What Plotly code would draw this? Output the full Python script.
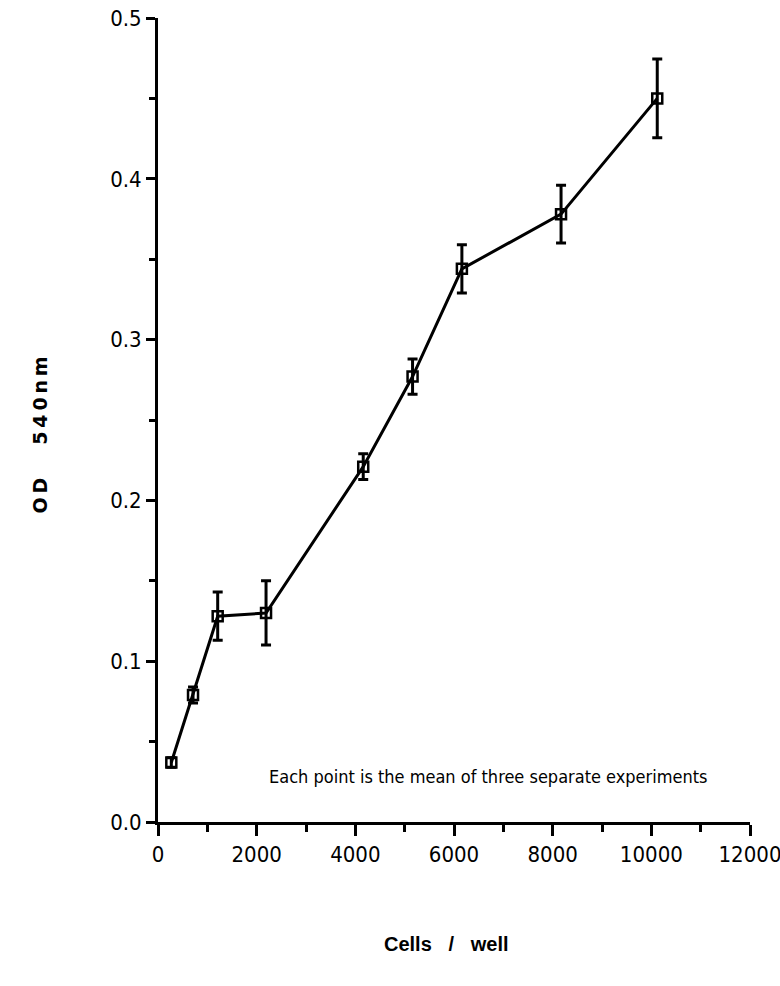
import plotly.graph_objects as go

# Cell-density calibration: mean OD at 540 nm per well
cells_per_well = [270, 710, 1210, 2190, 4160, 5160, 6160, 8170, 10120]
od_540 = [0.037, 0.079, 0.128, 0.130, 0.221, 0.277, 0.344, 0.378, 0.450]
od_err = [0.003, 0.005, 0.015, 0.020, 0.008, 0.011, 0.015, 0.018, 0.0245]

x_ticks = [0, 2000, 4000, 6000, 8000, 10000, 12000]
y_ticks = [0.0, 0.1, 0.2, 0.3, 0.4, 0.5]

narrow = "Liberation Sans Narrow, DejaVu Sans Condensed, Arial Narrow, sans-serif"
tick_font = dict(family=narrow, size=22, color="black")
ts = "\u2009"  # thin space for letter-spaced title

fig = go.Figure()
fig.add_trace(go.Scatter(
    x=cells_per_well,
    y=od_540,
    mode="lines+markers",
    line=dict(color="black", width=3),
    marker=dict(symbol="square-open", size=10, color="black", line=dict(width=2.5)),
    error_y=dict(type="data", array=od_err, visible=True, color="black", thickness=3, width=5),
    showlegend=False,
))

fig.add_annotation(
    x=6690, y=0.0286, xref="x", yref="y",
    text="Each point is the mean of three separate experiments",
    showarrow=False,
    font=dict(family=narrow, size=18, color="black"),
)

# axis titles
fig.add_annotation(
    x=-0.221, y=0.481, xref="paper", yref="paper",
    text="O" + ts + "D" + "\u00a0" * 5 + ts.join("540nm"),
    textangle=-90, showarrow=False,
    font=dict(family="DejaVu Sans, sans-serif", size=19, color="black", weight="bold"),
)
fig.add_annotation(
    x=0.4865, y=-0.168, xref="paper", yref="paper",
    text="Cells\u00a0\u00a0\u00a0/\u00a0\u00a0\u00a0well",
    showarrow=False,
    font=dict(family="Liberation Sans, Arial, sans-serif", size=20, color="black", weight="bold"),
)

fig.update_xaxes(
    range=[0, 12000],
    tickvals=x_ticks,
    ticktext=[str(v) for v in x_ticks],
    ticklabeloverflow="allow",
    automargin=False,
    showline=True, linewidth=3, linecolor="black",
    ticks="outside", ticklen=11, tickwidth=3, tickcolor="black",
    minor=dict(dtick=1000, ticks="outside", ticklen=7, tickwidth=3, tickcolor="black"),
    showgrid=False, zeroline=False,
    tickfont=tick_font,
)
fig.update_yaxes(
    range=[0, 0.5],
    tickvals=y_ticks,
    ticktext=[f"{v:.1f}" for v in y_ticks],
    automargin=False,
    showline=True, linewidth=3, linecolor="black",
    ticks="outside", ticklen=9, tickwidth=3, tickcolor="black",
    minor=dict(dtick=0.05, ticks="outside", ticklen=6, tickwidth=3, tickcolor="black"),
    showgrid=False, zeroline=False,
    tickfont=tick_font,
)

fig.update_layout(
    width=780, height=986,
    margin=dict(l=158, r=30, t=18, b=164),
    paper_bgcolor="white", plot_bgcolor="white",
)

fig.write_html("out.html")
